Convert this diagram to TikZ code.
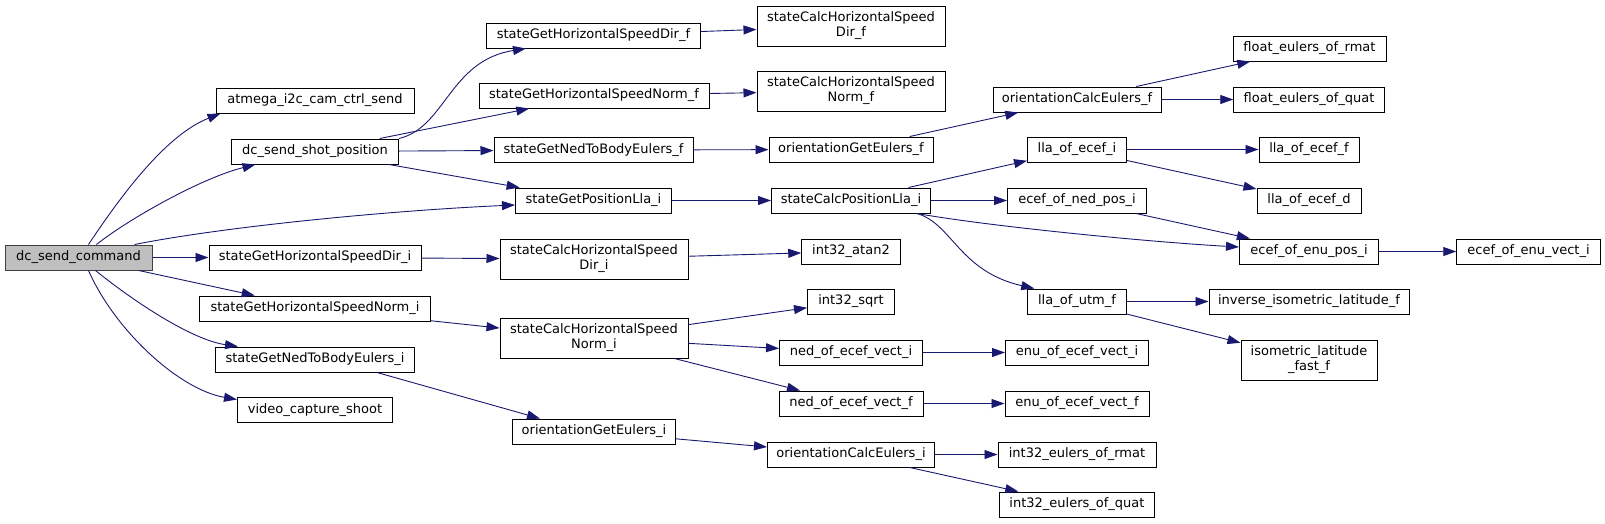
\documentclass[tikz,border=0pt]{standalone}
\usepackage{fontspec}
\setmainfont{DejaVu Sans}
\usepackage{xcolor}
\usetikzlibrary{arrows.meta,positioning,calc}
\definecolor{callblue}{HTML}{191970}
\definecolor{rootgray}{HTML}{BFBFBF}
\definecolor{rootline}{HTML}{404040}
\tikzset{
	fn/.style={draw=black, line width=1pt, fill=white, inner sep=0pt, minimum height=25, align=center, font=\fontsize{13}{15}\selectfont},
	fntwo/.style={fn, minimum height=40},
	rootfn/.style={fn, fill=rootgray, draw=rootline},
	call/.style={draw=callblue, line width=0.9pt, -{Triangle[length=13pt,width=9pt]}}
}
\begin{document}
\begin{tikzpicture}[x=1pt,y=-1pt]
	\useasboundingbox (0,0) rectangle (1605,523);
	
	% caller
	\node[rootfn,minimum width=147] (dcc) at (78.5,257.5) {dc\_send\_command};
	
	% first level
	\node[fn,minimum width=198] (atm) at (315,100.5) {atmega\_i2c\_cam\_ctrl\_send};
	\node[fn,minimum width=167] (dsp) at (315,151.5) {dc\_send\_shot\_position};
	\node[fn,minimum width=212] (sghdi) at (315,257.5) {stateGetHorizontalSpeedDir\_i};
	\node[fn,minimum width=231] (sghni) at (315,308.5) {stateGetHorizontalSpeedNorm\_i};
	\node[fn,minimum width=199] (sgnbei) at (315,359.5) {stateGetNedToBodyEulers\_i};
	\node[fn,minimum width=155] (vcs) at (315,410) {video\_capture\_shoot};
	
	% second level
	\node[fn,minimum width=214] (sghdf) at (593.5,35.5) {stateGetHorizontalSpeedDir\_f};
	\node[fn,minimum width=230] (sghnf) at (594,95.5) {stateGetHorizontalSpeedNorm\_f};
	\node[fn,minimum width=199] (sgnbef) at (593.5,150) {stateGetNedToBodyEulers\_f};
	\node[fn,minimum width=156] (sgpl) at (593.5,200.5) {stateGetPositionLla\_i};
	\node[fntwo,minimum width=188] (schdi) at (594,259) {stateCalcHorizontalSpeed\\Dir\_i};
	\node[fntwo,minimum width=188] (schni) at (594,338) {stateCalcHorizontalSpeed\\Norm\_i};
	\node[fn,minimum width=163] (ogei) at (594,431.5) {orientationGetEulers\_i};
	
	% third level
	\node[fntwo,minimum width=188] (schdf) at (851,26) {stateCalcHorizontalSpeed\\Dir\_f};
	\node[fntwo,minimum width=188] (schnf) at (851,91) {stateCalcHorizontalSpeed\\Norm\_f};
	\node[fn,minimum width=164] (ogef) at (851,149.5) {orientationGetEulers\_f};
	\node[fn,minimum width=159] (scpl) at (851,200.5) {stateCalcPositionLla\_i};
	\node[fn,minimum width=98.5] (atan) at (851,251.5) {int32\_atan2};
	\node[fn,minimum width=87] (sqrt) at (851,301.5) {int32\_sqrt};
	\node[fn,minimum width=143] (neci) at (851,352.5) {ned\_of\_ecef\_vect\_i};
	\node[fn,minimum width=144] (necf) at (851,403.5) {ned\_of\_ecef\_vect\_f};
	\node[fn,minimum width=167] (ocei) at (851,454.5) {orientationCalcEulers\_i};
	
	% fourth level
	\node[fn,minimum width=168] (ocef) at (1077,99.5) {orientationCalcEulers\_f};
	\node[fn,minimum width=99] (lei) at (1077,149.5) {lla\_of\_ecef\_i};
	\node[fn,minimum width=139] (eonp) at (1077,200.5) {ecef\_of\_ned\_pos\_i};
	\node[fn,minimum width=98.5] (lutm) at (1077,301.5) {lla\_of\_utm\_f};
	\node[fn,minimum width=143] (eoeci) at (1077,352.5) {enu\_of\_ecef\_vect\_i};
	\node[fn,minimum width=144] (eoecf) at (1077,403.5) {enu\_of\_ecef\_vect\_f};
	\node[fn,minimum width=158] (ier) at (1077,454.5) {int32\_eulers\_of\_rmat};
	\node[fn,minimum width=155] (ieq) at (1077,504.5) {int32\_eulers\_of\_quat};
	
	% fifth and sixth level
	\node[fn,minimum width=153] (fer) at (1309.5,48.5) {float\_eulers\_of\_rmat};
	\node[fn,minimum width=150.5] (feq) at (1309,99.5) {float\_eulers\_of\_quat};
	\node[fn,minimum width=100] (leif) at (1309,149.5) {lla\_of\_ecef\_f};
	\node[fn,minimum width=104] (led) at (1309,200.5) {lla\_of\_ecef\_d};
	\node[fn,minimum width=139] (eoep) at (1309,251.5) {ecef\_of\_enu\_pos\_i};
	\node[fn,minimum width=200] (iilf) at (1309,301.5) {inverse\_isometric\_latitude\_f};
	\node[fntwo,minimum width=136] (ilff) at (1309,360) {isometric\_latitude\\\_fast\_f};
	\node[fn,minimum width=143.5] (eoev) at (1528.5,251.5) {ecef\_of\_enu\_vect\_i};
	
	% calls from the caller
	\draw[call] ([xshift=10]dcc.north) .. controls +(30,-45) and +(-56,22) .. ([xshift=5]atm.south west);
	\draw[call] ([xshift=18]dcc.north) .. controls +(28.5,-23) and +(-56,14) .. ([xshift=24.5]dsp.south west);
	\draw[call] ([xshift=-18]dcc.north east) .. controls +(96,-19) and +(-115.5,5) .. ([yshift=-4.5]sgpl.west);
	\draw[call] (dcc) -- (sghdi);
	\draw[call] (dcc) -- (sghni);
	\draw[call] ([xshift=17]dcc.south) .. controls +(34.5,28) and +(-48,-7) .. ([xshift=23]sgnbei.north west);
	\draw[call] ([xshift=10]dcc.south) .. controls +(26.5,60) and +(-58,-10) .. ([yshift=-2.5]vcs.north west);
	
	% calls from dc_send_shot_position
	\draw[call] (dsp.north east) .. controls +(46.5,-11) and +(-76.5,12) .. ([xshift=40]sghdf.south west);
	\draw[call] (dsp) -- (sghnf);
	\draw[call] (dsp) -- (sgnbef);
	\draw[call] (dsp) -- (sgpl);
	
	% second level calls
	\draw[call] (sghdf) -- (schdf);
	\draw[call] (sghnf) -- (schnf);
	\draw[call] (sgnbef) -- (ogef);
	\draw[call] (sgpl) -- (scpl);
	\draw[call] (sghdi) -- (schdi);
	\draw[call] (sghni) -- (schni);
	\draw[call] ([xshift=62]sgnbei.south) -- ([xshift=-54]ogei.north);
	
	% third level calls
	\draw[call] (schdi) -- (atan);
	\draw[call] (schni) -- (sqrt);
	\draw[call] (schni) -- (neci);
	\draw[call] (schni) -- (necf);
	\draw[call] (ogei) -- (ocei);
	\draw[call] (ogef) -- (ocef);
	\draw[call] (scpl) -- (lei);
	\draw[call] (scpl) -- (eonp);
	\draw[call] ([xshift=-14]scpl.south east) .. controls +(73,13) and +(-89.5,-5) .. ([yshift=4.5]eoep.west);
	\draw[call] ([xshift=-14]scpl.south east) .. controls +(35,10) and +(-75,-17) .. ([xshift=7]lutm.north west);
	
	% fourth level calls
	\draw[call] (ocef) -- (fer);
	\draw[call] (ocef) -- (feq);
	\draw[call] (lei) -- (leif);
	\draw[call] (lei) -- (led);
	\draw[call] (eonp) -- (eoep);
	\draw[call] (lutm) -- (iilf);
	\draw[call] (lutm) -- (ilff);
	\draw[call] (neci) -- (eoeci);
	\draw[call] (necf) -- (eoecf);
	\draw[call] (ocei) -- (ier);
	\draw[call] (ocei) -- (ieq);
	
	% last call
	\draw[call] (eoep) -- (eoev);
\end{tikzpicture}
\end{document}
